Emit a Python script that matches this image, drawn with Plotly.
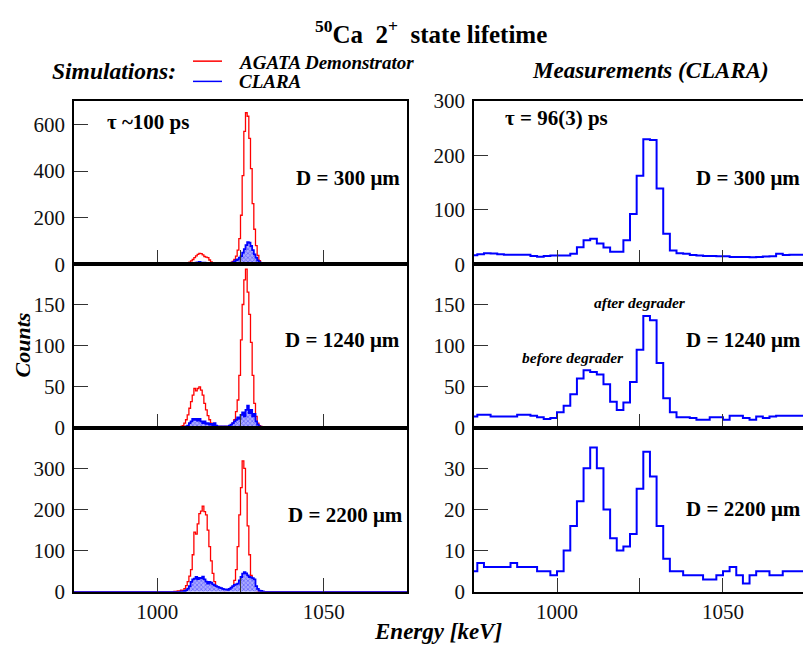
import numpy as np
import plotly.graph_objects as go

W, H = 803, 660
FONT = "'Liberation Serif', 'Times New Roman', Times, serif"

# ---------------- simulated spectra: 0.5 keV bins, lower edges from SIM_START ----------------
SIM_START = 1005.0
SIM_BIN = 0.5

agata_300 = [1, 1, 2, 1, 2, 2, 3, 4, 6, 9,
             14, 20, 28, 36, 42, 46, 45, 40, 33, 30,
             28, 18, 10, 6, 4, 3, 3, 2, 3, 2,
             3, 3, 4, 6, 8, 12, 20, 35, 60, 110,
             210, 380, 570, 650, 635, 540, 410, 260, 150, 80,
             38, 15, 6, 3, 2, 1, 1, 0]
clara_300 = [0, 0, 0, 1, 1, 1, 2, 2, 3, 4,
             5, 6, 6, 7, 8, 10, 7, 6, 7, 5,
             5, 4, 4, 3, 3, 3, 2, 2, 2, 2,
             3, 3, 4, 5, 6, 8, 12, 18, 20, 28,
             35, 50, 65, 82, 95, 92, 78, 60, 42, 28,
             16, 9, 5, 3, 2, 1, 0, 0]

agata_1240 = [1, 0, 1, 1, 2, 3, 6, 10, 16, 24,
              32, 40, 48, 45, 48, 50, 46, 40, 30, 22,
              15, 10, 6, 4, 3, 2, 2, 1, 2, 1,
              2, 2, 1, 3, 4, 6, 10, 20, 34, 64,
              107, 150, 180, 193, 165, 138, 104, 64, 30, 14,
              6, 3, 2, 1, 1, 0, 0, 0]
clara_1240 = [0, 0, 0, 1, 0, 1, 1, 2, 3, 6,
              8, 11, 10, 11, 9, 11, 8, 6, 8, 5,
              6, 4, 5, 3, 6, 3, 2, 2, 2, 1,
              2, 2, 1, 3, 4, 6, 8, 10, 13, 11,
              16, 19, 14, 22, 27, 18, 22, 14, 17, 8,
              4, 2, 1, 1, 0, 0, 0, 0]

agata_2200 = [1, 1, 2, 2, 4, 3, 8, 15, 25, 38,
              54, 90, 145, 140, 165, 190, 196, 208, 195, 187,
              150, 110, 75, 45, 25, 12, 6, 4, 4, 3,
              3, 3, 4, 6, 9, 12, 28, 54, 110, 187,
              253, 318, 300, 240, 160, 90, 40, 15, 6, 3,
              2, 1, 1, 0, 0, 0, 0, 0]
clara_2200 = [0, 0, 0, 0, 1, 1, 2, 4, 8, 14,
              24, 30, 32, 36, 31, 34, 33, 37, 30, 25,
              20, 24, 22, 18, 16, 14, 12, 10, 9, 7,
              6, 6, 5, 7, 10, 14, 17, 18, 20, 28,
              36, 44, 48, 45, 40, 36, 35, 33, 30, 14,
              7, 3, 2, 1, 0, 0, 0, 0]

# ---------------- measured spectra (CLARA): 2 keV bins, lower edges from MEAS_START ----------------
MEAS_START = 974.0
MEAS_BIN = 2.0

meas_300 = [16.5, 18, 20, 19.5, 18, 17.5, 17.5, 17.5, 17.5, 15,
            13.5, 15, 16, 16, 16, 19, 31, 44, 46.5, 38,
            30.5, 23, 23, 44, 92, 162, 229, 228, 139, 56,
            25, 20, 19, 17, 16, 15, 15, 14.5, 14.5, 13,
            13, 13, 12.5, 13, 14, 14.5, 19, 17, 17.5, 17.5,
            17.5]
meas_1240 = [14, 16, 16, 14, 14, 14, 14, 16, 16, 15,
             13, 11, 12, 19, 27, 41, 60, 70, 68, 65,
             53, 32, 22, 31, 56, 95, 136, 131, 79, 36,
             19, 13, 13, 12, 10, 10, 13, 13, 10, 15,
             15, 12, 10, 14, 12, 14, 15, 15, 15, 15,
             15]
meas_2200 = [5, 7, 6, 6, 6, 6, 7, 6, 6, 6,
             5, 5, 4, 5, 10, 16, 22, 30, 35, 30,
             20, 13, 10, 11, 14, 25, 34, 28, 16, 8,
             5, 5, 4, 4, 4, 3, 3, 4, 5, 6,
             4, 2, 4, 5, 5, 4, 4, 5, 5, 5,
             5]

thickness_labels = ["D = 300 \u03bcm", "D = 1240 \u03bcm", "D = 2200 \u03bcm"]
y_ticks_sim = [[0, 200, 400, 600], [0, 50, 100, 150], [0, 100, 200, 300]]
y_ticks_meas = [[0, 100, 200, 300], [0, 50, 100, 150], [0, 10, 20, 30]]
y_max_sim = [702, 199, 398]
y_max_meas = [300, 199, 39.75]
x_ticks = [1000, 1050]
x_minor_ticks = [1025]

E_LO, E_HI = 975.0, 1075.0
E_HI_RIGHT = 1074.1


def sim_steps(vals):
    n_lo = int(round((SIM_START - E_LO) / SIM_BIN))
    n_hi = int(round((E_HI - SIM_START) / SIM_BIN)) - len(vals)
    v = [0] * n_lo + list(vals) + [0] * n_hi
    edges = E_LO + SIM_BIN * np.arange(len(v) + 1)
    return edges, v + [v[-1]]


def meas_steps(vals):
    edges = MEAS_START + MEAS_BIN * np.arange(len(vals) + 1)
    return edges, list(vals) + [vals[-1]]


def fx(px):
    return px / W


def fy(py):
    return 1 - py / H


# panel frames in pixels
left_x = (74, 407)
right_x = (474, 803)
rows = [(92, 261.7), (261.7, 431.7), (431.7, 601.7)]

fig = go.Figure()
layout = dict(
    width=W, height=H,
    margin=dict(l=0, r=0, t=0, b=0),
    paper_bgcolor="white", plot_bgcolor="white",
    showlegend=False,
    font=dict(family=FONT, color="black", size=19),
)

agata = [agata_300, agata_1240, agata_2200]
clara = [clara_300, clara_1240, clara_2200]
meas = [meas_300, meas_1240, meas_2200]

axis_common = dict(
    showgrid=False, zeroline=False, showline=True, linecolor="black", linewidth=1.6,
    ticks="inside", ticklen=14, tickwidth=1.3, tickcolor="#333",
    tickfont=dict(family=FONT, size=21, color="#111"),
)

for r in range(3):
    top, bot = rows[r]
    ydom = [fy(bot), fy(top)]
    for c in range(2):
        k = 2 * r + c + 1
        xa = "x" if k == 1 else f"x{k}"
        ya = "y" if k == 1 else f"y{k}"
        xkey = "xaxis" if k == 1 else f"xaxis{k}"
        ykey = "yaxis" if k == 1 else f"yaxis{k}"
        xr = left_x if c == 0 else right_x
        last = r == 2
        layout[xkey] = dict(
            axis_common, domain=[fx(xr[0]), min(fx(xr[1]), 1.0)], anchor=ya,
            range=[E_LO, E_HI if c == 0 else E_HI_RIGHT],
            tickmode="array", tickvals=x_ticks,
            minor=dict(tickmode="array", tickvals=x_minor_ticks, ticks="inside",
                       ticklen=14, tickwidth=1.3, tickcolor="#333"),
            showticklabels=last,
            mirror=True, ticklabelstandoff=0,
        )
        layout[ykey] = dict(
            axis_common, domain=ydom, anchor=xa,
            range=[0, y_max_sim[r] if c == 0 else y_max_meas[r]],
            tickmode="array",
            tickvals=y_ticks_sim[r] if c == 0 else y_ticks_meas[r],
            mirror=(c == 0), ticklabelstandoff=3,
        )

        if c == 0:
            ex, ey = sim_steps(agata[r])
            fig.add_trace(go.Scatter(
                x=ex, y=ey, xaxis=xa, yaxis=ya, mode="lines",
                line=dict(color="#ff0000", width=1.3, shape="hv"),
                hoverinfo="skip"))
            ex, ey = sim_steps(clara[r])
            fig.add_trace(go.Scatter(
                x=ex, y=ey, xaxis=xa, yaxis=ya, mode="lines",
                line=dict(color="#0000ff", width=1.8, shape="hv"),
                fill="tozeroy", fillcolor="rgba(90,90,255,0.7)",
                fillpattern=dict(shape="x", fgcolor="#1515ff", bgcolor="#aaaaff",
                                 size=3, solidity=0.4),
                hoverinfo="skip"))
        else:
            ex, ey = meas_steps(meas[r])
            fig.add_trace(go.Scatter(
                x=ex, y=ey, xaxis=xa, yaxis=ya, mode="lines",
                line=dict(color="#0000ff", width=2, shape="hv"),
                hoverinfo="skip"))

fig.update_layout(**layout)

ann = []


def text(px, py, s, size, anchor="left", bold=True, italic=False, color="black"):
    t = s
    if italic:
        t = f"<i>{t}</i>"
    if bold:
        t = f"<b>{t}</b>"
    ann.append(dict(x=fx(px), y=fy(py), xref="paper", yref="paper", text=t,
                    showarrow=False, xanchor=anchor, yanchor="middle",
                    font=dict(family=FONT, size=size, color=color)))


# title and column headings
text(431, 21, "<sup>50</sup>Ca\u00a0\u00a02<sup>+</sup>\u00a0\u00a0state lifetime", 25, "center")
text(50, 61, "Simulations:", 23.5, "left", italic=True)
text(530, 61, "Measurements (CLARA)", 23, "left", italic=True)
text(237, 52, "AGATA Demonstrator", 19, "left", italic=True)
text(237, 72, "CLARA", 19, "left", italic=True)

# panel labels
text(105, 114, "\u03c4 ~100 ps", 21, "left")
text(503, 110, "\u03c4 = 96(3) ps", 21, "left")
text(402, 172, thickness_labels[0], 21, "right")
text(802, 172, thickness_labels[0], 21, "right")
text(402, 340, thickness_labels[1], 21, "right")
text(803, 340, thickness_labels[1], 21, "right")
text(405, 522, thickness_labels[2], 21, "right")
text(803, 516, thickness_labels[2], 21, "right")
text(640, 301, "after degrader", 15.5, "center", italic=True)
text(573, 359, "before degrader", 15.5, "center", italic=True)

# axis titles
text(438, 643, "Energy [keV]", 23, "center", italic=True)
ann.append(dict(x=fx(22), y=fy(346), xref="paper", yref="paper",
                text="<b><i>Counts</i></b>", showarrow=False, textangle=-90,
                xanchor="center", yanchor="middle",
                font=dict(family=FONT, size=22, color="black")))

fig.update_layout(annotations=ann)

# legend keys
fig.add_shape(type="line", xref="paper", yref="paper",
              x0=fx(193), x1=fx(222), y0=fy(51), y1=fy(51),
              line=dict(color="#ff0000", width=1.5))
fig.add_shape(type="line", xref="paper", yref="paper",
              x0=fx(193), x1=fx(222), y0=fy(72), y1=fy(72),
              line=dict(color="#0000ff", width=1.5))

fig.write_html("out.html")
